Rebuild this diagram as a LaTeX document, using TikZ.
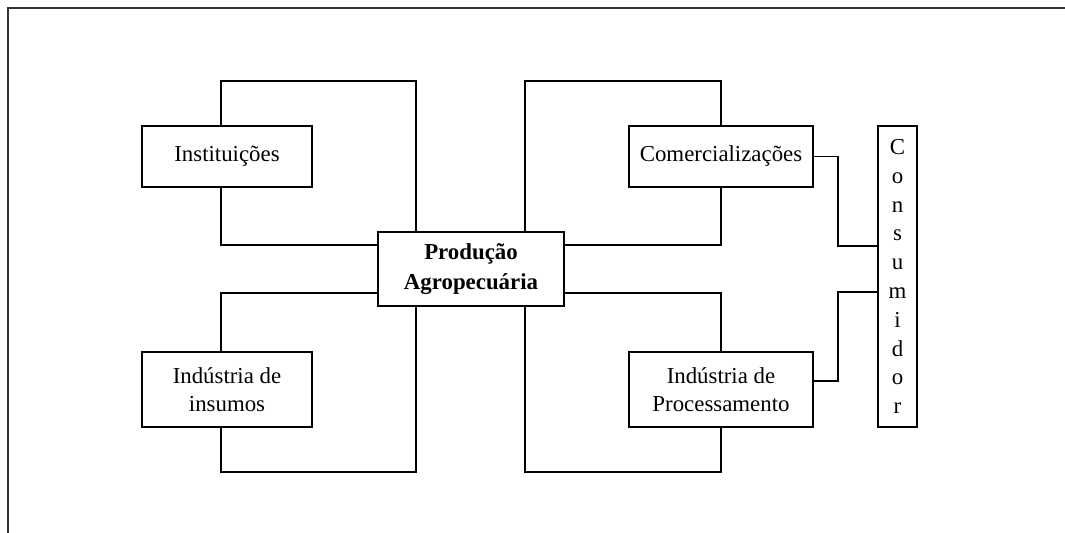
\documentclass[tikz,border=0pt]{standalone}
\usepackage{fontspec}
\setmainfont{Liberation Serif}
\usepackage{tikz}
\tikzset{box node/.style={rectangle,draw,line width=1.1pt,inner sep=0pt,align=center,
            font=\fontsize{13}{16}\selectfont},
         link/.style={line width=1.1pt},
            }
\begin{document}
\begin{tikzpicture}
				\useasboundingbox (0,0) rectangle (21.3,-10.66);
				\draw[line width=0.8pt,black!80] (0.16,-10.66) -- (0.16,-0.16) -- (21.3,-0.16);
				
				\node[box node,minimum width=3.4cm,minimum height=1.22cm] (inst) at (4.54,-3.13) {Instituições};
				\node[box node,minimum width=3.4cm,minimum height=1.5cm] (insumos) at (4.54,-7.79) {Indústria de\\insumos};
				\node[box node,minimum width=3.72cm,minimum height=1.48cm,font=\fontsize{13}{17}\selectfont\bfseries] (prod) at (9.42,-5.38) {Produção\\Agropecuária};
				\node[box node,minimum width=3.68cm,minimum height=1.22cm] (comerc) at (14.42,-3.13) {Comercializações};
				\node[box node,minimum width=3.68cm,minimum height=1.5cm] (proc) at (14.42,-7.79) {Indústria de\\Processamento};
				\node[box node,minimum width=0.78cm,minimum height=6.02cm,font=\fontsize{13}{16.4}\selectfont] (cons) at (17.95,-5.53) {C\\o\\n\\s\\u\\m\\i\\d\\o\\r};
				
				\coordinate (ulA) at (8.32,-1.62);
				\coordinate (llA) at (8.32,-9.44);
				\coordinate (urA) at (10.5,-1.62);
				\coordinate (lrA) at (10.5,-9.44);
				\coordinate (cjA) at (16.76,-4.92);
				\coordinate (cjB) at (16.76,-5.84);
				
				\draw[link] ([xshift=-0.12cm]inst.north) |- (ulA) -- (ulA |- prod.north);
				\draw[link] ([xshift=-0.12cm]inst.south) |- ([yshift=-0.28cm]prod.north west);
				\draw[link] ([yshift=0.28cm]prod.south west) -| ([xshift=-0.12cm]insumos.north);
				\draw[link] ([xshift=-0.12cm]insumos.south) |- (llA) -- (llA |- prod.south);
				\draw[link] (comerc.north) |- (urA) -- (urA |- prod.north);
				\draw[link] (comerc.south) |- ([yshift=-0.28cm]prod.north east);
				\draw[link] ([yshift=0.28cm]prod.south east) -| (proc.north);
				\draw[link] (proc.south) |- (lrA) -- (lrA |- prod.south);
				\draw[link] (comerc.east) -| (cjA) -- (cjA -| cons.west);
				\draw[link] ([yshift=0.17cm]proc.east) -| (cjB) -- (cjB -| cons.west);
			\end{tikzpicture}
\end{document}
